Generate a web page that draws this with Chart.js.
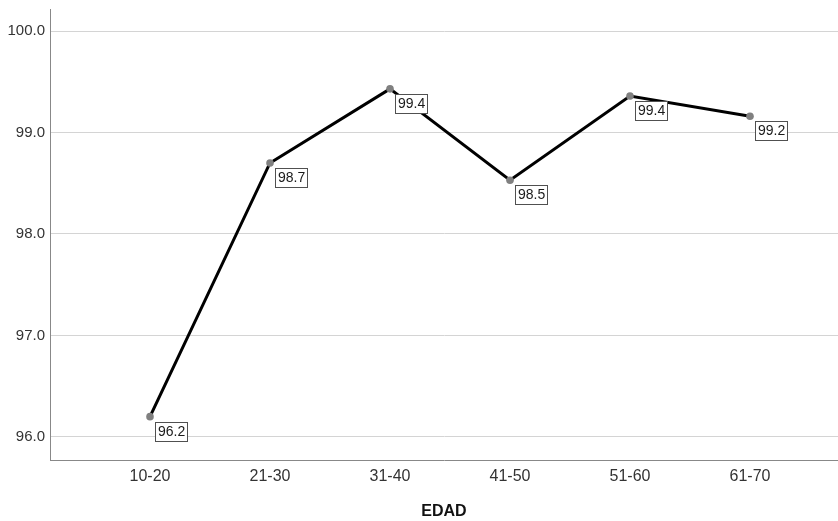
<!DOCTYPE html>
<html>
<head>
<meta charset="utf-8">
<script src="https://cdn.jsdelivr.net/npm/chart.js@4/dist/chart.umd.min.js"></script>
<style>
  html, body { margin: 0; padding: 0; background: #ffffff; }
  #wrap { width: 838px; height: 521px; position: relative; }
</style>
</head>
<body>
<div id="wrap"><canvas id="c" width="838" height="521"></canvas></div>
<script>
const categories = ["10-20", "21-30", "31-40", "41-50", "51-60", "61-70"];
const values = [96.20, 98.70, 99.43, 98.53, 99.36, 99.16];
const yTicks = [96, 97, 98, 99, 100];
const xTitle = "EDAD";

const points = values.map((v, i) => ({ x: i, y: v }));
const FONT = 'Arial, "Liberation Sans", sans-serif';

const labelBoxes = {
  id: 'labelBoxes',
  afterDatasetsDraw(chart) {
    const ctx = chart.ctx;
    const meta = chart.getDatasetMeta(0);
    ctx.save();
    ctx.font = '14px ' + FONT;
    ctx.textBaseline = 'middle';
    ctx.textAlign = 'left';
    meta.data.forEach((el, i) => {
      const txt = values[i].toFixed(1);
      const w = Math.round(ctx.measureText(txt).width) + 5;
      const h = 19;
      const bx = Math.round(el.x) + 5.5;
      const by = Math.round(el.y) + 5.5;
      ctx.fillStyle = '#ffffff';
      ctx.fillRect(bx, by, w, h);
      ctx.strokeStyle = '#505050';
      ctx.lineWidth = 1;
      ctx.strokeRect(bx, by, w, h);
      ctx.fillStyle = '#1a1a1a';
      ctx.fillText(txt, bx + 2.5, by + h / 2 + 0.5);
    });
    ctx.restore();
  }
};

new Chart(document.getElementById('c'), {
  type: 'line',
  data: {
    datasets: [{
      data: points,
      borderColor: '#000000',
      borderWidth: 3,
      pointRadius: 3.8,
      pointBackgroundColor: '#808080',
      pointBorderColor: '#808080',
      pointBorderWidth: 0,
      tension: 0,
      fill: false
    }]
  },
  options: {
    responsive: false,
    animation: false,
    devicePixelRatio: 1,
    layout: { autoPadding: false, padding: { top: 9, right: 0, left: 0, bottom: 0 } },
    plugins: { legend: { display: false }, tooltip: { enabled: false } },
    scales: {
      x: {
        type: 'linear',
        min: -100 / 120,
        max: 5 + 88 / 120,
        afterBuildTicks: (s) => { s.ticks = categories.map((_, i) => ({ value: i })); },
        afterFit: (s) => { s.height = 61; s.paddingLeft = 0; s.paddingRight = 0; },
        grid: { display: false, drawTicks: false },
        border: { display: true, color: '#888888', width: 1 },
        ticks: {
          autoSkip: false,
          maxRotation: 0,
          padding: 7,
          color: '#333333',
          font: { family: FONT, size: 16 },
          callback: (v) => categories[v] ?? ''
        },
        title: {
          display: true,
          text: xTitle,
          color: '#111111',
          padding: { top: 10, bottom: 0 },
          font: { family: FONT, size: 16, weight: 'bold' }
        }
      },
      y: {
        min: 95.773,
        max: 100.217,
        afterBuildTicks: (s) => { s.ticks = yTicks.map(v => ({ value: v })); },
        afterFit: (s) => { s.width = 50; s.paddingTop = 0; s.paddingBottom = 0; },
        grid: { color: '#d4d4d4', lineWidth: 1, drawTicks: false },
        border: { display: true, color: '#888888', width: 1 },
        ticks: {
          padding: 5,
          color: '#333333',
          font: { family: FONT, size: 15 },
          callback: (v) => Number(v).toFixed(1)
        }
      }
    }
  },
  plugins: [labelBoxes]
});
</script>
</body>
</html>
